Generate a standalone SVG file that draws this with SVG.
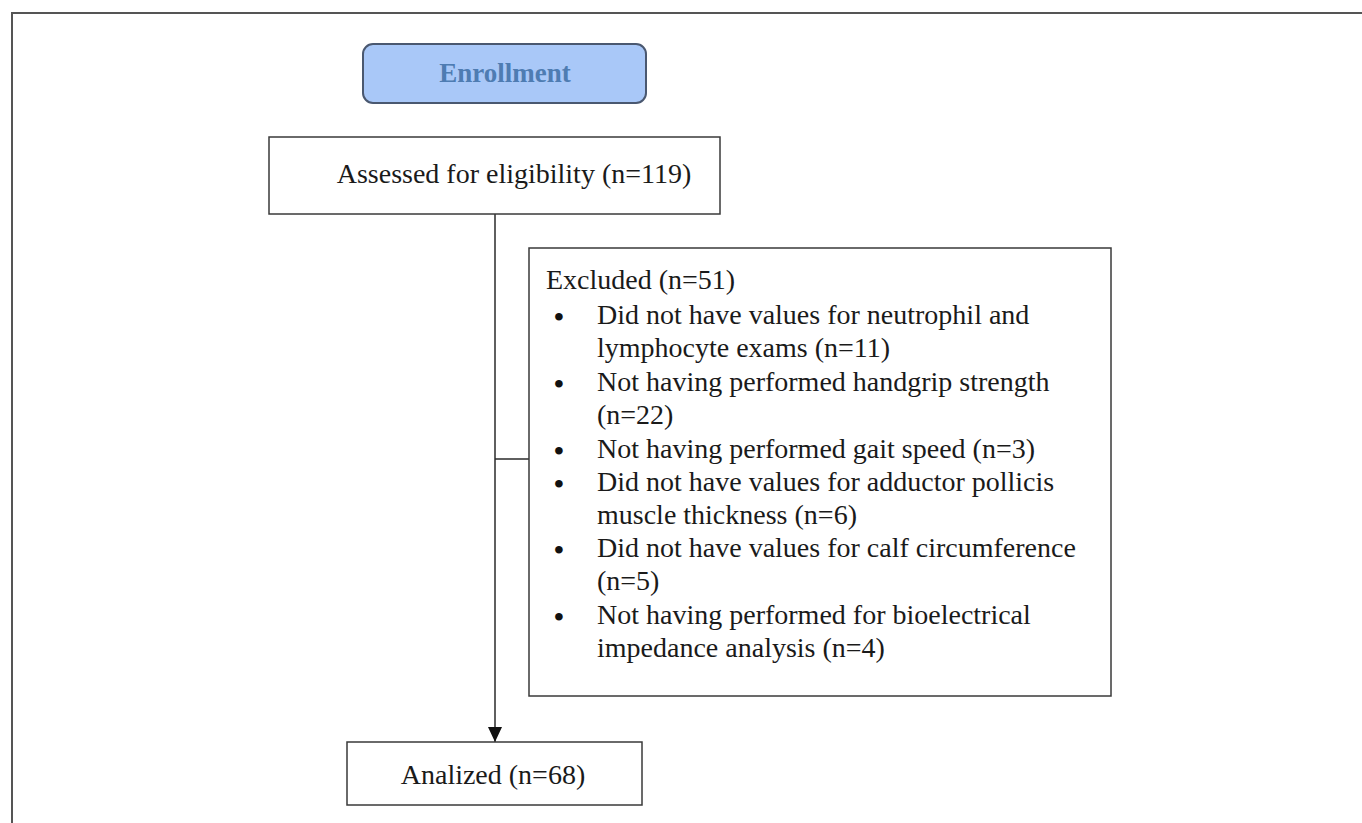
<svg xmlns="http://www.w3.org/2000/svg" width="1362" height="823" viewBox="0 0 1362 823">
<defs>
<style>
.box{fill:#fff;stroke:#3a3a3a;stroke-width:1.5}
.t{font-family:"Liberation Serif","Times New Roman",serif;font-size:28px;fill:#1a1a1a}
.b{font-family:"Liberation Serif","Times New Roman",serif;font-size:28px;font-weight:bold;fill:#111}
.ln{stroke:#2a2a2a;stroke-width:1.5;fill:none}
</style>
<marker id="arr" markerWidth="16" markerHeight="14" refX="15" refY="7" orient="auto" markerUnits="userSpaceOnUse">
<path d="M0,0 L15,7 L0,14 Z" fill="#111"/>
</marker>
</defs>
<rect x="0" y="0" width="1362" height="823" fill="#fff"/>
<rect x="12" y="13" width="1400" height="850" fill="none" stroke="#555" stroke-width="2"/>
<g id="connectors">
<line class="ln" x1="495" y1="214" x2="495" y2="742" marker-end="url(#arr)"/>
<line class="ln" x1="495" y1="459" x2="529" y2="459"/>
</g>
<g id="enrollment">
<rect x="363" y="44" width="283" height="59" rx="10" fill="#a9c8f8" stroke="#4a5870" stroke-width="2"/>
<text x="505" y="82" text-anchor="middle" font-family="Liberation Serif, serif" font-weight="bold" font-size="27" fill="#4e7cb2">Enrollment</text>
</g>
<g id="assessed">
<rect class="box" x="269" y="137" width="451" height="77"/>
<text class="t" x="514" y="183" text-anchor="middle">Assessed for eligibility (n=119)</text>
</g>
<g id="excluded">
<rect class="box" x="529" y="248" width="582" height="448"/>
<text class="t" x="546" y="289">Excluded (n=51)</text>
<g class="b">
<text x="554" y="326">•</text>
<text x="554" y="393">•</text>
<text x="554" y="460">•</text>
<text x="554" y="493">•</text>
<text x="554" y="559">•</text>
<text x="554" y="626">•</text>
</g>
<g class="t">
<text x="597" y="324">Did not have values for neutrophil and</text>
<text x="597" y="357">lymphocyte exams (n=11)</text>
<text x="597" y="391">Not having performed handgrip strength</text>
<text x="597" y="424">(n=22)</text>
<text x="597" y="458">Not having performed gait speed (n=3)</text>
<text x="597" y="491">Did not have values for adductor pollicis</text>
<text x="597" y="524">muscle thickness (n=6)</text>
<text x="597" y="557">Did not have values for calf circumference</text>
<text x="597" y="590">(n=5)</text>
<text x="597" y="624">Not having performed for bioelectrical</text>
<text x="597" y="657">impedance analysis (n=4)</text>
</g>
</g>
<g id="analized">
<rect class="box" x="347" y="742" width="295" height="63"/>
<text class="t" x="493" y="784" text-anchor="middle">Analized (n=68)</text>
</g>
</svg>
